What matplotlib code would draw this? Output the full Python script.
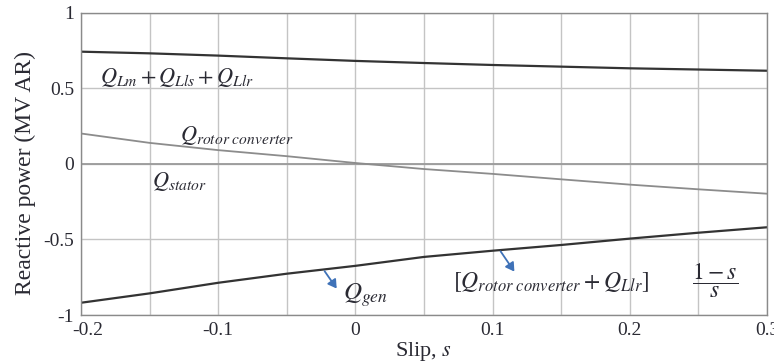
import matplotlib
matplotlib.use("Agg")
import matplotlib.pyplot as plt
import matplotlib.transforms as mtransforms
from matplotlib.ticker import MultipleLocator

plt.rcParams["font.family"] = ["Liberation Serif", "DejaVu Serif"]
plt.rcParams["mathtext.fontset"] = "stix"

# Slip values and reactive power components (MVAR)
slip = [-0.2, -0.15, -0.1, -0.05, 0.0, 0.05, 0.1, 0.15, 0.2, 0.25, 0.3]
q_magnetizing = [0.741, 0.730, 0.715, 0.697, 0.680, 0.666, 0.653, 0.642, 0.631, 0.623, 0.615]
q_rotor_conv = [0.200, 0.138, 0.090, 0.050, 0.005, -0.035, -0.067, -0.103, -0.138, -0.169, -0.198]
q_stator = [0.0, 0.0, 0.0, 0.0, 0.0, 0.0, 0.0, 0.0, 0.0, 0.0, 0.0]
q_gen = [-0.919, -0.857, -0.787, -0.727, -0.675, -0.616, -0.575, -0.537, -0.495, -0.456, -0.420]

x_ticks = [-0.2, -0.1, 0, 0.1, 0.2, 0.3]
x_tick_labels = ["-0.2", "-0.1", "0", "0.1", "0.2", "0.3"]
y_ticks = [-1, -0.5, 0, 0.5, 1]
y_tick_labels = ["-1", "-0.5", "0", "0.5", "1"]

text_col = "#2a2a33"
arrow_col = "#3f72b8"

fig = plt.figure(figsize=(7.74, 3.63), dpi=100)
ax = fig.add_axes([81 / 774, 48 / 363, 686 / 774, 302.5 / 363])

ax.set_xlim(-0.2, 0.3)
ax.set_ylim(-1, 1)
ax.set_xticks(x_ticks)
ax.set_xticklabels(x_tick_labels)
ax.set_yticks(y_ticks)
ax.set_yticklabels(y_tick_labels)
ax.xaxis.set_minor_locator(MultipleLocator(0.05))
ax.tick_params(which="both", length=0, labelsize=14, colors=text_col, pad=5)
ax.grid(which="both", axis="x", color="#c4c4c4", lw=1.0)
ax.grid(which="major", axis="y", color="#c4c4c4", lw=1.0)
ax.set_axisbelow(True)
for sp in ax.spines.values():
    sp.set_color("#8a8a8a")
    sp.set_linewidth(1.0)

# nudge the first x label away from the "-1" y label
first = ax.get_xticklabels()[0]
first.set_transform(first.get_transform() +
                    mtransforms.ScaledTranslation(7 / 100, 0, fig.dpi_scale_trans))

ax.plot(slip, q_stator, color="#9a9a9a", lw=1.3)
ax.plot(slip, q_rotor_conv, color="#8c8c8c", lw=1.3)
ax.plot(slip, q_magnetizing, color="#333333", lw=1.6)
ax.plot(slip, q_gen, color="#333333", lw=1.6)

ax.set_xlabel(r"Slip, $s$", fontsize=16, color=text_col, labelpad=1)
ax.set_ylabel("Reactive power (MV AR)", fontsize=17, color=text_col)
ax.yaxis.set_label_coords(-0.066, 0.47)

lab = dict(color=text_col, fontsize=16, va="center", ha="left")
ax.text(-0.186, 0.567, r"$Q_{Lm} + Q_{Lls} + Q_{Llr}$", **lab)
ax.text(-0.128, 0.19, r"$Q_{rotor\ converter}$", **lab)
ax.text(-0.148, -0.12, r"$Q_{stator}$", **lab)
ax.text(-0.009, -0.868, r"$Q_{gen}$", color=text_col, fontsize=18, va="center", ha="left")
ax.text(0.071, -0.78, r"$\left[Q_{rotor\ converter} + Q_{Llr}\right]$",
        color=text_col, fontsize=17, va="center", ha="left")
ax.text(0.262, -0.775, r"$\dfrac{1-s}{s}$", color=text_col, fontsize=17,
        va="center", ha="center")

arrow = dict(arrowstyle="-|>,head_length=0.5,head_width=0.3", color=arrow_col, lw=1.3)
ax.annotate("", xy=(-0.0125, -0.84), xytext=(-0.0236, -0.695), arrowprops=arrow)
ax.annotate("", xy=(0.117, -0.728), xytext=(0.1047, -0.564), arrowprops=arrow)

fig.savefig("out.png", dpi=100)
